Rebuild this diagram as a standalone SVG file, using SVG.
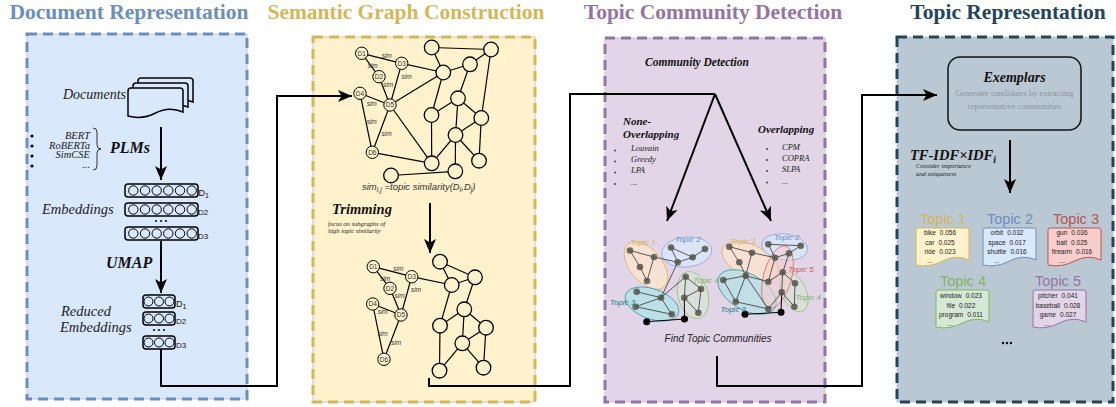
<svg xmlns="http://www.w3.org/2000/svg" width="1116" height="407" viewBox="0 0 1116 407">
<defs>
<marker id="ah" markerUnits="userSpaceOnUse" markerWidth="16" markerHeight="14" refX="14" refY="6" orient="auto" overflow="visible">
<path d="M0,0 L14,6 L0,12 L3.5,6 Z" fill="#000"/>
</marker>
<path id="doc" d="M3,0 H52 Q55,0 55,3 V24 Q41,18 27.5,25 T0,28 V3 Q0,0 3,0 Z"/>
<path id="card" d="M2,0 H51 Q53,0 53,2 V32 Q40,26 26.5,33 T0,37 V2 Q0,0 2,0 Z"/>
</defs>
<style>
.title{font-family:"Liberation Serif",serif;font-weight:bold;font-size:21.5px;text-anchor:middle}
.panel{fill:none;stroke-width:3;stroke-dasharray:10 6}
.frame{stroke:#c8c8c8;stroke-width:1}
.it{font-family:"Liberation Serif",serif;font-style:italic;fill:#222}
.bi{font-family:"Liberation Serif",serif;font-style:italic;font-weight:bold;fill:#111}
.conn{fill:none;stroke:#000;stroke-width:2}
.emb{fill:none;stroke:#000;stroke-width:1.5}
.dn{fill:#fff2cc;stroke:#000;stroke-width:1}
.gn{fill:#fff2cc;stroke:#000;stroke-width:1.3}
.ge{stroke:#000;stroke-width:1.2;fill:none}
.dl{font-family:"Liberation Sans",sans-serif;font-size:6.5px;text-anchor:middle;fill:#333}
.sim{font-family:"Liberation Sans",sans-serif;font-size:6.5px;font-style:italic;fill:#333;text-anchor:middle}
.ce{stroke:#333;stroke-width:0.8;fill:none}
.cn{fill:#55554a;fill-opacity:0.85}
.bn{fill:#000}
.tl{font-family:"Liberation Sans",sans-serif;font-size:8px;font-style:italic;text-anchor:middle}
.ct{font-family:"Liberation Sans",sans-serif;font-size:6.5px;fill:#222;text-anchor:middle}
.tt{font-family:"Liberation Sans",sans-serif;font-size:14.5px;text-anchor:middle}
.lbl{font-family:"Liberation Sans",sans-serif;fill:#111}
</style>

<!-- Panel 1 -->
<g id="panel-document-representation">
<rect x="27" y="34" width="220" height="365" fill="#dae8fc" class="frame"/>
<rect x="27" y="34" width="220" height="365" stroke="#6c8ebf" class="panel"/>
<text class="title" x="129" y="19" fill="#6c8ebf">Document Representation</text>
</g>
<g id="documents">
<use href="#doc" x="138" y="78" fill="#dae8fc" stroke="#000" stroke-width="1.5"/>
<use href="#doc" x="133" y="83" fill="#dae8fc" stroke="#000" stroke-width="1.5"/>
<use href="#doc" x="128" y="88" fill="#dae8fc" stroke="#000" stroke-width="1.5"/>
<text class="it" x="63" y="99" font-size="14">Documents</text>
</g>
<g id="plms">
<circle cx="32" cy="136" r="1.6"/><circle cx="32" cy="146" r="1.6"/><circle cx="32" cy="156" r="1.6"/><circle cx="32" cy="166" r="1.6"/>
<text class="it" font-size="10.5" text-anchor="end" fill="#333"><tspan x="90" y="139">BERT</tspan><tspan x="90" y="148.5">RoBERTa</tspan><tspan x="90" y="158">SimCSE</tspan><tspan x="90" y="168">...</tspan></text>
<path d="M93,128 Q97,128 97,132 V145 Q97,149 101,149 Q97,149 97,153 V166 Q97,170 93,170" fill="none" stroke="#333" stroke-width="1"/>
<text class="bi" x="110" y="153" font-size="16">PLMs</text>
</g>
<g id="embeddings">
<text class="it" x="42" y="214" font-size="14.5">Embeddings</text>
<rect x="125" y="184" width="73" height="13" rx="3" class="emb"/>
<g fill="none" stroke="#000" stroke-width="1">
<circle cx="133.3" cy="190.5" r="4.7"/><circle cx="145" cy="190.5" r="4.7"/><circle cx="156.7" cy="190.5" r="4.7"/><circle cx="168.3" cy="190.5" r="4.7"/><circle cx="180" cy="190.5" r="4.7"/><circle cx="191.7" cy="190.5" r="4.7"/>
</g>
<rect x="125" y="203" width="73" height="13" rx="3" class="emb"/>
<g fill="none" stroke="#000" stroke-width="1">
<circle cx="133.3" cy="209.5" r="4.7"/><circle cx="145" cy="209.5" r="4.7"/><circle cx="156.7" cy="209.5" r="4.7"/><circle cx="168.3" cy="209.5" r="4.7"/><circle cx="180" cy="209.5" r="4.7"/><circle cx="191.7" cy="209.5" r="4.7"/>
</g>
<circle cx="156" cy="221" r="1"/><circle cx="161" cy="221" r="1"/><circle cx="166" cy="221" r="1"/>
<rect x="125" y="227" width="73" height="13" rx="3" class="emb"/>
<g fill="none" stroke="#000" stroke-width="1">
<circle cx="133.3" cy="233.5" r="4.7"/><circle cx="145" cy="233.5" r="4.7"/><circle cx="156.7" cy="233.5" r="4.7"/><circle cx="168.3" cy="233.5" r="4.7"/><circle cx="180" cy="233.5" r="4.7"/><circle cx="191.7" cy="233.5" r="4.7"/>
</g>
<text class="lbl" x="198.5" y="196" font-size="9">D<tspan font-size="7" dy="2">1</tspan></text>
<text class="lbl" x="198" y="214.5" font-size="8">D2</text>
<text class="lbl" x="198" y="238.5" font-size="8">D3</text>
</g>
<g id="umap">
<text class="bi" x="106" y="268" font-size="16">UMAP</text>
</g>
<g id="reduced-embeddings">
<text class="it" x="61" y="316" font-size="14.5">Reduced</text>
<text class="it" x="60" y="332" font-size="14.5">Embeddings</text>
<rect x="143" y="295" width="32" height="13" rx="3" class="emb"/>
<g fill="none" stroke="#000" stroke-width="1"><circle cx="148.5" cy="301.5" r="4.5"/><circle cx="159" cy="301.5" r="4.5"/><circle cx="169.5" cy="301.5" r="4.5"/></g>
<rect x="143" y="312" width="32" height="13" rx="3" class="emb"/>
<g fill="none" stroke="#000" stroke-width="1"><circle cx="148.5" cy="318.5" r="4.5"/><circle cx="159" cy="318.5" r="4.5"/><circle cx="169.5" cy="318.5" r="4.5"/></g>
<circle cx="154" cy="330" r="1"/><circle cx="159" cy="330" r="1"/><circle cx="164" cy="330" r="1"/>
<rect x="143" y="336" width="32" height="13" rx="3" class="emb"/>
<g fill="none" stroke="#000" stroke-width="1"><circle cx="148.5" cy="342.5" r="4.5"/><circle cx="159" cy="342.5" r="4.5"/><circle cx="169.5" cy="342.5" r="4.5"/></g>
<text class="lbl" x="176" y="307" font-size="9">D<tspan font-size="7" dy="2">1</tspan></text>
<text class="lbl" x="176" y="323.5" font-size="8">D2</text>
<text class="lbl" x="176" y="347.5" font-size="8">D3</text>
</g>

<!-- Panel 2 -->
<g id="panel-semantic-graph">
<rect x="313" y="37" width="222" height="365" fill="#fff2cc" class="frame"/>
<rect x="313" y="37" width="222" height="365" stroke="#d6b656" class="panel"/>
<text class="title" x="406" y="19" fill="#d6b656" font-size="19">Semantic Graph Construction</text>
</g>
<g id="semantic-graph">
<g class="ge">
<line x1="361.7" y1="53.3" x2="401.7" y2="63.3"/><line x1="361.7" y1="53.3" x2="379" y2="76.7"/><line x1="379" y1="76.7" x2="390" y2="105"/><line x1="401.7" y1="63.3" x2="390" y2="105"/><line x1="401.7" y1="63.3" x2="443.3" y2="72.5"/><line x1="360" y1="93.3" x2="390" y2="105"/><line x1="360" y1="93.3" x2="372.3" y2="152.3"/><line x1="390" y1="105" x2="372.3" y2="152.3"/><line x1="390" y1="105" x2="443.3" y2="72.5"/><line x1="390" y1="105" x2="431.7" y2="163.3"/><line x1="372.3" y1="152.3" x2="431.7" y2="163.3"/>
<line x1="431.7" y1="47.5" x2="491" y2="49.5"/><line x1="431.7" y1="47.5" x2="443.3" y2="72.5"/><line x1="443.3" y1="72.5" x2="470" y2="64.3"/><line x1="470" y1="64.3" x2="491" y2="49.5"/><line x1="470" y1="64.3" x2="458" y2="98.3"/><line x1="491" y1="49.5" x2="481.3" y2="118"/><line x1="443.3" y1="72.5" x2="431.5" y2="115"/><line x1="431.5" y1="115" x2="458" y2="98.3"/><line x1="458" y1="98.3" x2="481.3" y2="118"/><line x1="431.5" y1="115" x2="431.7" y2="163.3"/><line x1="458" y1="98.3" x2="455.5" y2="135"/><line x1="481.3" y1="118" x2="455.5" y2="135"/><line x1="455.5" y1="135" x2="431.7" y2="163.3"/><line x1="455.5" y1="135" x2="455.3" y2="171.3"/><line x1="481.3" y1="118" x2="479" y2="160.7"/><line x1="455.5" y1="135" x2="479" y2="160.7"/><line x1="391" y1="175.5" x2="455.3" y2="171.3"/>
</g>
<g class="gn">
<circle cx="431.7" cy="47.5" r="7.3"/><circle cx="491" cy="49.5" r="7.3"/><circle cx="470" cy="64.3" r="7.3"/><circle cx="443.3" cy="72.5" r="7.3"/><circle cx="458" cy="98.3" r="7.3"/><circle cx="431.5" cy="115" r="7.3"/><circle cx="481.3" cy="118" r="7.3"/><circle cx="455.5" cy="135" r="7.3"/><circle cx="431.7" cy="163.3" r="7.3"/><circle cx="479" cy="160.7" r="7.3"/><circle cx="455.3" cy="171.3" r="7.3"/><circle cx="391" cy="175.5" r="7.3"/>
</g>
<g class="dn">
<circle cx="361.7" cy="53.3" r="6.2"/><circle cx="379" cy="76.7" r="6.2"/><circle cx="401.7" cy="63.3" r="6.2"/><circle cx="360" cy="93.3" r="6.2"/><circle cx="390" cy="105" r="6.2"/><circle cx="372.3" cy="152.3" r="6.2"/>
</g>
<text class="dl" x="361.7" y="55.6">D1</text><text class="dl" x="379" y="79">D2</text><text class="dl" x="401.7" y="65.6">D3</text><text class="dl" x="360" y="95.6">D4</text><text class="dl" x="390" y="107.3">D5</text><text class="dl" x="372.3" y="154.6">D6</text>
<text class="sim" x="386.7" y="57.5">sim</text><text class="sim" x="372.7" y="67.5">sim</text><text class="sim" x="406.5" y="78.5">sim</text><text class="sim" x="388" y="87">sim</text><text class="sim" x="371.7" y="106">sim</text><text class="sim" x="371.7" y="124">sim</text><text class="sim" x="386.5" y="135.5">sim</text>
<text x="362" y="190" font-family="Liberation Sans, sans-serif" font-size="9.5" font-style="italic" fill="#333">sim<tspan font-size="7" dy="2">i,j</tspan><tspan dy="-2"> =topic similarity(D</tspan><tspan font-size="7" dy="2">i</tspan><tspan dy="-2">,D</tspan><tspan font-size="7" dy="2">j</tspan><tspan dy="-2">)</tspan></text>
</g>
<g id="trimming">
<text class="bi" x="332" y="214" font-size="14.5">Trimming</text>
<text class="it" font-size="6.5" fill="#333"><tspan x="328" y="226">focus on subgraphs of</tspan><tspan x="328" y="233">high topic similarity</tspan></text>
</g>
<g id="trimmed-graph">
<g class="ge">
<line x1="373.3" y1="266.7" x2="411.7" y2="276.7"/><line x1="373.3" y1="266.7" x2="390" y2="288.3"/><line x1="390" y1="288.3" x2="401" y2="315"/><line x1="411.7" y1="276.7" x2="401" y2="315"/><line x1="411.7" y1="276.7" x2="451.7" y2="285"/><line x1="372.7" y1="304" x2="401" y2="315"/><line x1="372.7" y1="304" x2="384" y2="359.3"/><line x1="401" y1="315" x2="384" y2="359.3"/>
<line x1="440" y1="261.7" x2="451.7" y2="285"/><line x1="440" y1="261.7" x2="475" y2="277.3"/><line x1="451.7" y1="285" x2="475" y2="277.3"/><line x1="451.7" y1="285" x2="440" y2="325.7"/><line x1="475" y1="277.3" x2="464.3" y2="309.3"/><line x1="464.3" y1="309.3" x2="440" y2="325.7"/><line x1="464.3" y1="309.3" x2="462.3" y2="343.3"/><line x1="464.3" y1="309.3" x2="486" y2="327.7"/><line x1="486" y1="327.7" x2="462.3" y2="343.3"/><line x1="486" y1="327.7" x2="483.5" y2="367.7"/><line x1="440" y1="325.7" x2="439.5" y2="370.7"/><line x1="439.5" y1="370.7" x2="462.3" y2="343.3"/><line x1="462.3" y1="343.3" x2="483.5" y2="367.7"/>
</g>
<g class="gn">
<circle cx="440" cy="261.7" r="7.3"/><circle cx="475" cy="277.3" r="7.3"/><circle cx="451.7" cy="285" r="7.3"/><circle cx="464.3" cy="309.3" r="7.3"/><circle cx="440" cy="325.7" r="7.3"/><circle cx="486" cy="327.7" r="7.3"/><circle cx="462.3" cy="343.3" r="7.3"/><circle cx="439.5" cy="370.7" r="7.3"/><circle cx="483.5" cy="367.7" r="7.3"/>
</g>
<g class="dn">
<circle cx="373.3" cy="266.7" r="6.2"/><circle cx="390" cy="288.3" r="6.2"/><circle cx="411.7" cy="276.7" r="6.2"/><circle cx="372.7" cy="304" r="6.2"/><circle cx="401" cy="315" r="6.2"/><circle cx="384" cy="359.3" r="6.2"/>
</g>
<text class="dl" x="373.3" y="269">D1</text><text class="dl" x="390" y="290.6">D2</text><text class="dl" x="411.7" y="279">D3</text><text class="dl" x="372.7" y="306.3">D4</text><text class="dl" x="401" y="317.3">D5</text><text class="dl" x="384" y="361.6">D6</text>
<text class="sim" x="398.3" y="270.5">sim</text><text class="sim" x="385" y="281">sim</text><text class="sim" x="416" y="291.5">sim</text><text class="sim" x="399.5" y="297.5">sim</text><text class="sim" x="382.7" y="314">sim</text><text class="sim" x="382.7" y="336">sim</text><text class="sim" x="396" y="344.5">sim</text>
</g>

<!-- Panel 3 -->
<g id="panel-community-detection">
<rect x="605" y="38" width="220" height="364" fill="#e1d5e7" class="frame"/>
<rect x="605" y="38" width="220" height="364" stroke="#9673a6" class="panel"/>
<text class="title" x="713" y="19" fill="#9673a6">Topic Community Detection</text>
<text class="bi" x="697" y="66" font-size="11.5" text-anchor="middle">Community Detection</text>
</g>
<g id="none-overlapping">
<text class="bi" font-size="11"><tspan x="623" y="125">None-</tspan><tspan x="623" y="138">Overlapping</tspan></text>
<g fill="#333"><circle cx="615" cy="150.5" r="0.9"/><circle cx="615" cy="161.5" r="0.9"/><circle cx="615" cy="172.5" r="0.9"/><circle cx="615" cy="184" r="0.9"/></g>
<text class="it" font-size="8.5" fill="#555"><tspan x="631" y="151">Louvain</tspan><tspan x="631" y="162">Greedy</tspan><tspan x="631" y="173">LPA</tspan><tspan x="631" y="184.5">...</tspan></text>
</g>
<g id="overlapping">
<text class="bi" x="758" y="133" font-size="11">Overlapping</text>
<g fill="#333"><circle cx="767" cy="149" r="0.9"/><circle cx="767" cy="160" r="0.9"/><circle cx="767" cy="171" r="0.9"/><circle cx="767" cy="182.5" r="0.9"/></g>
<text class="it" font-size="8.5" fill="#555"><tspan x="782" y="150">CPM</tspan><tspan x="782" y="161">COPRA</tspan><tspan x="782" y="172">SLPA</tspan><tspan x="782" y="183.5">...</tspan></text>
</g>
<g id="communities-non-overlapping">
<ellipse cx="646" cy="265.5" rx="28" ry="16" transform="rotate(50 646 265.5)" fill="#ffe6cc" fill-opacity="0.75" stroke="#e0b070" stroke-width="0.8"/>
<ellipse cx="686.7" cy="252" rx="25" ry="15" transform="rotate(-5 686.7 252)" fill="#dae8fc" fill-opacity="0.75" stroke="#8ea8d8" stroke-width="0.8"/>
<ellipse cx="652" cy="304" rx="28" ry="15" transform="rotate(20 652 304)" fill="#b0e3e6" fill-opacity="0.75" stroke="#3a9aa5" stroke-width="0.8"/>
<ellipse cx="693" cy="295" rx="15" ry="24" transform="rotate(-15 693 295)" fill="#d5e8d4" fill-opacity="0.6" stroke="#9ac47e" stroke-width="0.8"/>
<g class="ce">
<line x1="630" y1="250.5" x2="654" y2="257"/><line x1="630" y1="250.5" x2="640" y2="267"/><line x1="640" y1="267" x2="647" y2="281"/><line x1="654" y1="257" x2="647" y2="281"/><line x1="654" y1="257" x2="677.7" y2="262.3"/>
<line x1="671" y1="247.5" x2="692.7" y2="257.3"/><line x1="705" y1="249" x2="692.7" y2="257.3"/><line x1="692.7" y1="257.3" x2="677.7" y2="262.3"/><line x1="671" y1="247.5" x2="677.7" y2="262.3"/>
<line x1="677.7" y1="262.3" x2="661" y2="297.7"/><line x1="685.7" y1="276.7" x2="661" y2="297.7"/>
<line x1="636.7" y1="291.7" x2="661" y2="297.7"/><line x1="661" y1="297.7" x2="635.7" y2="306.7"/><line x1="635.7" y1="306.7" x2="671.7" y2="314.3"/><line x1="661" y1="297.7" x2="671.7" y2="314.3"/>
<line x1="685.7" y1="276.7" x2="701" y2="289"/><line x1="685.7" y1="276.7" x2="684.3" y2="297.7"/><line x1="701" y1="289" x2="684.3" y2="297.7"/><line x1="684.3" y1="297.7" x2="698.3" y2="312.7"/><line x1="701" y1="289" x2="698.3" y2="312.7"/>
</g>
<g stroke="#000" stroke-width="1"><line x1="684.3" y1="297.7" x2="684.5" y2="319"/><line x1="646.7" y1="321.7" x2="684.5" y2="319"/></g>
<g class="cn">
<circle cx="630" cy="250.5" r="3.3"/><circle cx="654" cy="257" r="3.3"/><circle cx="640" cy="267" r="3.3"/><circle cx="647" cy="281" r="3.3"/>
<circle cx="671" cy="247.5" r="3.3"/><circle cx="705" cy="249" r="3.3"/><circle cx="692.7" cy="257.3" r="3.3"/><circle cx="677.7" cy="262.3" r="3.3"/>
<circle cx="636.7" cy="291.7" r="3.3"/><circle cx="661" cy="297.7" r="3.3"/><circle cx="635.7" cy="306.7" r="3.3"/><circle cx="671.7" cy="314.3" r="3.3"/>
<circle cx="685.7" cy="276.7" r="3.3"/><circle cx="701" cy="289" r="3.3"/><circle cx="684.3" cy="297.7" r="3.3"/><circle cx="698.3" cy="312.7" r="3.3"/>
</g>
<g class="bn"><circle cx="646.7" cy="321.7" r="3.5"/><circle cx="684.5" cy="319" r="3.5"/></g>
<text class="tl" x="643" y="244.5" fill="#d6b656">Topic 1</text>
<text class="tl" x="688" y="242" fill="#6c8ebf">Topic 2</text>
<text class="tl" x="706" y="283" fill="#82b366">Topic 4</text>
<text class="tl" x="622.5" y="304.5" fill="#0e8088">Topic 3</text>
</g>
<g id="communities-overlapping">
<ellipse cx="750" cy="261" rx="30" ry="16" transform="rotate(25 750 261)" fill="#ffe6cc" fill-opacity="0.7" stroke="#e0b070" stroke-width="0.8"/>
<ellipse cx="784.7" cy="247" rx="23" ry="13" transform="rotate(8 784.7 247)" fill="#dae8fc" fill-opacity="0.7" stroke="#8ea8d8" stroke-width="0.8"/>
<ellipse cx="747" cy="292" rx="32" ry="18" transform="rotate(30 747 292)" fill="#b0e3e6" fill-opacity="0.65" stroke="#3a9aa5" stroke-width="0.8"/>
<ellipse cx="794" cy="292" rx="12" ry="21" transform="rotate(-25 794 292)" fill="#d5e8d4" fill-opacity="0.55" stroke="#9ac47e" stroke-width="0.8"/>
<ellipse cx="777.5" cy="277" rx="14" ry="32" transform="rotate(15 777.5 277)" fill="#f8cecc" fill-opacity="0.55" stroke="#d07070" stroke-width="0.8"/>
<g class="ce">
<line x1="729.3" y1="246.7" x2="752" y2="252.7"/><line x1="729.3" y1="246.7" x2="739.3" y2="262.3"/><line x1="739.3" y1="262.3" x2="745.7" y2="275.7"/><line x1="752" y1="252.7" x2="745.7" y2="275.7"/><line x1="752" y1="252.7" x2="775" y2="257.7"/>
<line x1="768.3" y1="244.3" x2="800.7" y2="245.7"/><line x1="800.7" y1="245.7" x2="789" y2="253.3"/><line x1="789" y1="253.3" x2="775" y2="257.7"/><line x1="768.3" y1="244.3" x2="775" y2="257.7"/><line x1="775" y1="257.7" x2="768.3" y2="281.7"/>
<line x1="745.7" y1="275.7" x2="723.3" y2="280"/><line x1="723.3" y1="280" x2="735.7" y2="301.7"/><line x1="745.7" y1="275.7" x2="735.7" y2="301.7"/><line x1="745.7" y1="275.7" x2="768.3" y2="309"/><line x1="745.7" y1="275.7" x2="768.3" y2="281.7"/><line x1="735.7" y1="301.7" x2="768.3" y2="309"/>
<line x1="768.3" y1="281.7" x2="782.7" y2="272.3"/><line x1="782.7" y1="272.3" x2="789" y2="253.3"/><line x1="782.7" y1="272.3" x2="795" y2="283.3"/><line x1="782.7" y1="272.3" x2="781.7" y2="292.3"/><line x1="781.7" y1="292.3" x2="768.3" y2="309"/><line x1="781.7" y1="292.3" x2="794.3" y2="306.7"/><line x1="795" y1="283.3" x2="794.3" y2="306.7"/>
</g>
<g stroke="#000" stroke-width="1"><line x1="781.7" y1="292.3" x2="781" y2="312.3"/><line x1="745" y1="314.3" x2="781" y2="312.3"/></g>
<g class="cn">
<circle cx="729.3" cy="246.7" r="3.3"/><circle cx="752" cy="252.7" r="3.3"/><circle cx="739.3" cy="262.3" r="3.3"/>
<circle cx="768.3" cy="244.3" r="3.3"/><circle cx="800.7" cy="245.7" r="3.3"/><circle cx="789" cy="253.3" r="3.3"/><circle cx="775" cy="257.7" r="3.3"/>
<circle cx="745.7" cy="275.7" r="3.3"/><circle cx="782.7" cy="272.3" r="3.3"/><circle cx="768.3" cy="281.7" r="3.3"/><circle cx="781.7" cy="292.3" r="3.3"/>
<circle cx="795" cy="283.3" r="3.3"/><circle cx="794.3" cy="306.7" r="3.3"/>
<circle cx="723.3" cy="280" r="3.3"/><circle cx="735.7" cy="301.7" r="3.3"/><circle cx="768.3" cy="309" r="3.3"/>
</g>
<g class="bn"><circle cx="745" cy="314.3" r="3.5"/><circle cx="781" cy="312.3" r="3.5"/></g>
<text class="tl" x="743.3" y="244" fill="#d6b656">Topic 1</text>
<text class="tl" x="786.7" y="239.5" fill="#6c8ebf">Topic 2</text>
<text class="tl" x="801" y="271.5" fill="#c85a5a">Topic 5</text>
<text class="tl" x="808.3" y="299.5" fill="#82b366">Topic 4</text>
<text class="tl" x="733.3" y="311.5" fill="#0e8088">Topic 3</text>
</g>
<g id="find-topic-communities">
<text x="718" y="342" font-family="Liberation Sans, sans-serif" font-size="10" font-style="italic" fill="#222" text-anchor="middle">Find Topic Communities</text>
</g>

<!-- Panel 4 -->
<g id="panel-topic-representation">
<rect x="897" y="37" width="216" height="365" fill="#bac8d3" class="frame"/>
<rect x="897" y="37" width="216" height="365" stroke="#23445d" class="panel"/>
<text class="title" x="1008" y="19" fill="#23445d">Topic Representation</text>
</g>
<g id="exemplars">
<rect x="948" y="57" width="133" height="73" rx="12" fill="none" stroke="#111" stroke-width="1.5"/>
<text class="bi" x="1014.5" y="82" font-size="14" text-anchor="middle">Exemplars</text>
<text font-family="Liberation Serif, serif" font-size="8.5" fill="#8c96a0" text-anchor="middle"><tspan x="1014.5" y="96">Generater candidates by extracting</tspan><tspan x="1014.5" y="109">representative communities</tspan></text>
</g>
<g id="tfidf">
<text class="bi" x="910" y="160" font-size="14.5">TF-IDF×IDF<tspan font-size="10" dy="3">i</tspan></text>
<text class="it" font-size="6.5" fill="#333"><tspan x="916" y="168">Consider importance</tspan><tspan x="916" y="176">and uniqueness</tspan></text>
</g>
<g id="topic-1">
<text class="tt" x="943" y="224" fill="#d6b656">Topic 1</text>
<use href="#card" x="916" y="228" fill="#fff2cc" stroke="#d6b656" stroke-width="1"/>
<text class="ct"><tspan x="940" y="235">bike<tspan dx="4">0.056</tspan></tspan><tspan x="940" y="244.5">car<tspan dx="4">0.025</tspan></tspan><tspan x="940" y="254">ride<tspan dx="4">0.023</tspan></tspan></text>
<text class="ct" x="930" y="263">...</text>
</g>
<g id="topic-2">
<text class="tt" x="1010" y="224" fill="#6c8ebf">Topic 2</text>
<use href="#card" x="983" y="228" fill="#dae8fc" stroke="#6c8ebf" stroke-width="1"/>
<text class="ct"><tspan x="1007" y="235">orbit<tspan dx="4">0.032</tspan></tspan><tspan x="1007" y="244.5">space<tspan dx="4">0.017</tspan></tspan><tspan x="1007" y="254">shuttle<tspan dx="4">0.016</tspan></tspan></text>
<text class="ct" x="997" y="263">...</text>
</g>
<g id="topic-3">
<text class="tt" x="1076" y="224" fill="#b85450">Topic 3</text>
<use href="#card" x="1048" y="228" fill="#f8cecc" stroke="#b85450" stroke-width="1"/>
<text class="ct"><tspan x="1072" y="235">gun<tspan dx="4">0.036</tspan></tspan><tspan x="1072" y="244.5">bait<tspan dx="4">0.025</tspan></tspan><tspan x="1072" y="254">firearm<tspan dx="4">0.016</tspan></tspan></text>
<text class="ct" x="1062" y="263">...</text>
</g>
<g id="topic-4">
<text class="tt" x="963" y="286" fill="#82b366">Topic 4</text>
<use href="#card" x="936" y="290" fill="#d5e8d4" stroke="#82b366" stroke-width="1"/>
<text class="ct"><tspan x="961" y="298">window<tspan dx="4">0.023</tspan></tspan><tspan x="961" y="307.5">file<tspan dx="4">0.022</tspan></tspan><tspan x="961" y="317">program<tspan dx="4">0.011</tspan></tspan></text>
<text class="ct" x="950" y="326">...</text>
</g>
<g id="topic-5">
<text class="tt" x="1058" y="286" fill="#9673a6">Topic 5</text>
<use href="#card" x="1033" y="290" fill="#e1d5e7" stroke="#9673a6" stroke-width="1"/>
<text class="ct"><tspan x="1058" y="298">pitcher<tspan dx="4">0.041</tspan></tspan><tspan x="1058" y="307.5">baseball<tspan dx="4">0.028</tspan></tspan><tspan x="1058" y="317">game<tspan dx="4">0.027</tspan></tspan></text>
<text class="ct" x="1047" y="326">...</text>
</g>
<g id="more-topics"><circle cx="1003" cy="343" r="1.2"/><circle cx="1007" cy="343" r="1.2"/><circle cx="1011" cy="343" r="1.2"/></g>

<!-- Connectors -->
<g id="connectors">
<line class="conn" x1="161" y1="127" x2="161" y2="180" marker-end="url(#ah)"/>
<line class="conn" x1="161" y1="241" x2="161" y2="293" marker-end="url(#ah)"/>
<path class="conn" d="M161,349 V386 H277 V96 H352" marker-end="url(#ah)"/>
<line class="conn" x1="430" y1="203" x2="430" y2="253" marker-end="url(#ah)"/>
<path class="conn" d="M429,378 V386 H570 V94 H715"/>
<line class="conn" x1="715" y1="94" x2="667" y2="221" marker-end="url(#ah)"/>
<line class="conn" x1="715" y1="94" x2="771" y2="221" marker-end="url(#ah)"/>
<path class="conn" d="M717,356 V386 H862 V95 H937" marker-end="url(#ah)"/>
<line class="conn" x1="1010" y1="140" x2="1010" y2="193" marker-end="url(#ah)"/>
</g>
</svg>
